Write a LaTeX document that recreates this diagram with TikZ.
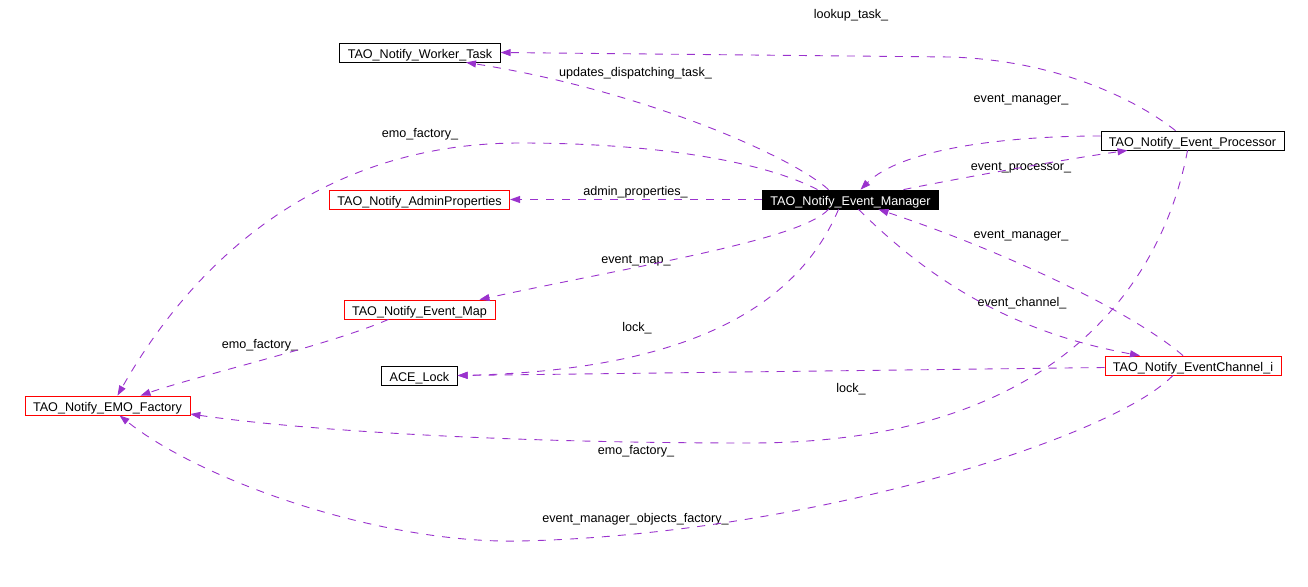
\documentclass[tikz,border=0pt]{standalone}
\usepackage{fontspec}
\setmainfont{Liberation Sans}
\usepackage{xcolor}
\usetikzlibrary{arrows.meta}
\definecolor{usecol}{RGB}{154,50,205}

\begin{document}
\begin{tikzpicture}[x=1pt, y=-1pt,
                      every node/.style={font=\fontsize{12.6pt}{15pt}\selectfont},
                      cls/.style={draw=black, line width=0.8pt, inner xsep=8pt, inner ysep=0pt, minimum height=19pt,
                        text height=12pt, text depth=0.5pt},
                      clsred/.style={cls, draw=red},
                      clsmain/.style={cls, fill=black, text=white},
                      uses/.style={draw=usecol, line width=0.9pt, dash pattern=on 8pt off 8pt,
                        -{Triangle[length=10pt,width=7pt,fill=usecol]}},
                      lbl/.style={inner sep=0pt, text height=9pt, text depth=0pt}]
                      \useasboundingbox (0,0) rectangle (1308,586);

                      % classes
                      \node[cls] (worker) at (420,52.5) {TAO\_Notify\_Worker\_Task};
                      \node[clsmain] (mgr) at (850.5,199.5) {TAO\_Notify\_Event\_Manager};
                      \node[cls] (proc) at (1192.5,140.5) {TAO\_Notify\_Event\_Processor};
                      \node[clsred] (admin) at (419.5,199.5) {TAO\_Notify\_AdminProperties};
                      \node[clsred] (evmap) at (419.5,309.5) {TAO\_Notify\_Event\_Map};
                      \node[cls] (acelock) at (419.5,375.5) {ACE\_Lock};
                      \node[clsred] (chan) at (1193,365.5) {TAO\_Notify\_EventChannel\_i};
                      \node[clsred] (emo) at (107.5,405.5) {TAO\_Notify\_EMO\_Factory};

                      % member labels
                      \node[lbl] (l-lookup) at (851,14) {lookup\_task\_};
                      \node[lbl] (l-updates) at (635.5,72) {updates\_dispatching\_task\_};
                      \node[lbl] (l-mgrtop) at (1021,98) {event\_manager\_};
                      \node[lbl] (l-emotop) at (420,133) {emo\_factory\_};
                      \node[lbl] (l-proc) at (1021,166) {event\_processor\_};
                      \node[lbl] (l-admin) at (635.5,191) {admin\_properties\_};
                      \node[lbl] (l-map) at (636,259) {event\_map\_};
                      \node[lbl] (l-mgrlow) at (1021,234) {event\_manager\_};
                      \node[lbl] (l-chan) at (1022,302) {event\_channel\_};
                      \node[lbl] (l-lockup) at (637,327) {lock\_};
                      \node[lbl] (l-locklow) at (851,388) {lock\_};
                      \node[lbl] (l-emomap) at (260,344) {emo\_factory\_};
                      \node[lbl] (l-emolow) at (636,450) {emo\_factory\_};
                      \node[lbl] (l-objfac) at (635.5,518) {event\_manager\_objects\_factory\_};

                      % usage relations
                      \draw[uses] ([xshift=-17pt]proc.north) .. controls (1130,95) and (1050,60) .. (950,57) -- (worker.east);
                      \draw[uses] ([xshift=-22pt]mgr.north) .. controls (790,155) and (640,90) .. ([xshift=46pt]worker.south);
                      \draw[uses] ([yshift=4.5pt]proc.west) .. controls (1000,136) and (900,150) .. ([xshift=10pt]mgr.north);
                      \draw[uses] ([xshift=53pt]mgr.north) .. controls (950,180) and (1060,160) .. ([xshift=-65pt]proc.south);
                      \draw[uses] ([xshift=-33pt]mgr.north) .. controls (760,160) and (650,143) .. (520,143)
                                  .. controls (330,143) and (200,250) .. ([xshift=10pt]emo.north);
                      \draw[uses] (mgr.west) -- (admin.east);
                      \draw[uses] ([xshift=-22pt]mgr.south) .. controls (800,240) and (640,265) .. ([xshift=60pt]evmap.north);
                      \draw[uses] ([xshift=-12pt]mgr.south) .. controls (800,300) and (700,370) .. (acelock.east);
                      \draw[uses] ([xshift=-31pt]evmap.south) .. controls (330,345) and (200,375) .. ([xshift=33pt]emo.north);
                      \draw[uses] ([xshift=-10pt]chan.north) .. controls (1130,310) and (1000,250) .. ([xshift=28pt]mgr.south);
                      \draw[uses] ([xshift=8pt]mgr.south) .. controls (920,270) and (1000,330) .. ([xshift=-53pt]chan.north);
                      \draw[uses] ([yshift=-2pt]chan.west) -- (acelock.east);
                      \draw[uses] ([xshift=-20pt]chan.south) .. controls (1110,440) and (800,535) .. (520,541)
                                  .. controls (380,544) and (200,480) .. ([xshift=12pt]emo.south);
                      \draw[uses] ([xshift=-5pt]proc.south) .. controls (1165,270) and (1070,443) .. (750,443)
                                  .. controls (500,443) and (300,430) .. ([yshift=-8.5pt]emo.east);
                    \end{tikzpicture}
\end{document}
